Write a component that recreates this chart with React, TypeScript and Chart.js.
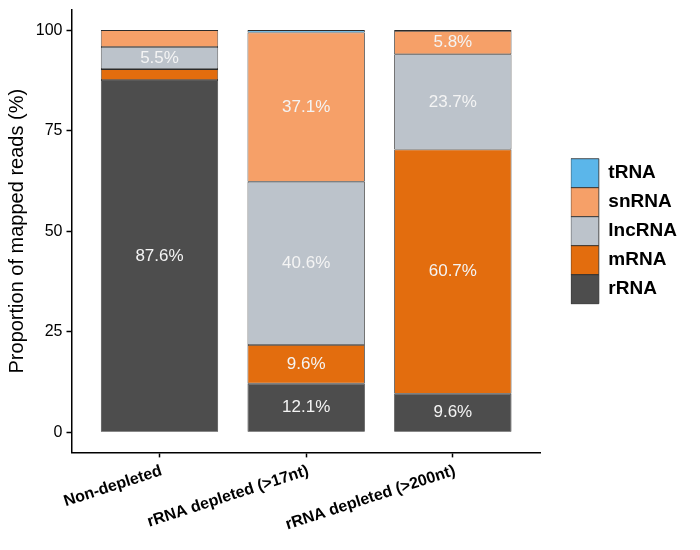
import React, { useEffect, useRef } from 'react';
import { Chart, registerables } from 'chart.js';

Chart.register(...registerables);

const categories = ['Non-depleted', 'rRNA depleted (>17nt)', 'rRNA depleted (>200nt)'];
const rRNA = [87.6, 12.1, 9.6];
const mRNA = [2.7, 9.6, 60.7];
const lncRNA = [5.5, 40.6, 23.7];
const snRNA = [4.2, 37.1, 5.8];
const tRNA = [0.0, 0.6, 0.2];
const yTicks = [0, 25, 50, 75, 100];

const FONT = "'Liberation Sans', Arial, Helvetica, sans-serif";

// white percentage labels inside segments of 5% or more
const valueLabels = {
  id: 'valueLabels',
  afterDatasetsDraw(chart: any) {
    const ctx = chart.ctx;
    ctx.save();
    ctx.font = `17px ${FONT}`;
    ctx.fillStyle = '#f4f4f4';
    ctx.textAlign = 'center';
    ctx.textBaseline = 'middle';
    chart.data.datasets.forEach((ds: any, i: number) => {
      const meta = chart.getDatasetMeta(i);
      meta.data.forEach((bar: any, j: number) => {
        const v = ds.data[j].y;
        if (v < 5) return;
        const { x, y, base } = bar.getProps(['x', 'y', 'base'], true);
        ctx.fillText(v.toFixed(1) + '%', x, (y + base) / 2);
      });
    });
    ctx.restore();
  },
};

const App: React.FC = () => {
  const canvasRef = useRef<HTMLCanvasElement | null>(null);
  const chartRef = useRef<Chart | null>(null);

  useEffect(() => {
    if (!canvasRef.current) return;
    if (chartRef.current) chartRef.current.destroy();

    const series = [
      { label: 'rRNA', values: rRNA, color: '#4d4d4d' },
      { label: 'mRNA', values: mRNA, color: '#e36d0e' },
      { label: 'lncRNA', values: lncRNA, color: '#bcc3cb' },
      { label: 'snRNA', values: snRNA, color: '#f6a068' },
      { label: 'tRNA', values: tRNA, color: '#5bb6ea' },
    ];

    chartRef.current = new Chart(canvasRef.current, {
      type: 'bar',
      data: {
        datasets: series.map((s) => ({
          label: s.label,
          data: s.values.map((v, i) => ({ x: i, y: v })),
          backgroundColor: s.color,
          borderColor: '#2b2b2b',
          borderWidth: 0.8,
          borderSkipped: false,
          categoryPercentage: 1,
          barPercentage: 0.8,
        })),
      },
      options: {
        animation: false,
        responsive: true,
        maintainAspectRatio: false,
        layout: { padding: { top: 10, left: 0, right: 15, bottom: 0 } },
        plugins: {
          tooltip: { enabled: false },
          legend: {
            position: 'right',
            fullSize: false,
            reverse: true,
            labels: {
              boxWidth: 28,
              boxHeight: 29,
              padding: 0,
              color: '#000',
              font: { family: FONT, size: 19, weight: 'bold' },
            },
          },
        },
        scales: {
          x: {
            type: 'linear',
            min: -0.6,
            max: 2.6,
            stacked: true,
            offset: false,
            afterBuildTicks: (s: any) => {
              s.ticks = categories.map((_, i) => ({ value: i }));
            },
            afterFit: (s: any) => {
              s.height = 97.6;
              s.paddingLeft = 0;
              s.paddingRight = 0;
            },
            ticks: {
              autoSkip: false,
              minRotation: 18,
              maxRotation: 18,
              padding: 4,
              labelOffset: 2,
              color: '#000',
              font: { family: FONT, size: 16, weight: 'bold' },
              callback: (v: any) => categories[v] ?? '',
            },
            grid: {
              display: true,
              offset: false,
              drawOnChartArea: false,
              drawTicks: true,
              tickLength: 5,
              tickColor: '#000',
              tickWidth: 1.5,
            },
            border: { display: true, color: '#000', width: 1.5 },
          },
          y: {
            type: 'linear',
            min: -5,
            max: 105,
            stacked: true,
            afterBuildTicks: (s: any) => {
              s.ticks = yTicks.map((v) => ({ value: v }));
            },
            afterFit: (s: any) => {
              s.width = 71.5;
              s.paddingTop = 0;
              s.paddingBottom = 0;
            },
            ticks: {
              padding: 4,
              color: '#000',
              font: { family: FONT, size: 16 },
            },
            grid: { drawOnChartArea: false, drawTicks: true, tickLength: 5, tickColor: '#000', tickWidth: 1.5 },
            border: { display: true, color: '#000', width: 1.5 },
            title: {
              display: true,
              text: 'Proportion of mapped reads (%)',
              color: '#000',
              font: { family: FONT, size: 20 },
              padding: { top: 5, bottom: 0 },
            },
          },
          // empty axis that keeps a gap between the plot and the legend
          gap: {
            type: 'linear',
            position: 'right',
            display: true,
            grid: { display: false },
            border: { display: false },
            ticks: { display: false },
            afterFit: (s: any) => {
              s.width = 30;
            },
          },
        },
      },
      plugins: [valueLabels],
    } as any);

    return () => {
      if (chartRef.current) {
        chartRef.current.destroy();
        chartRef.current = null;
      }
    };
  }, []);

  return (
    <div style={{ position: 'absolute', left: 0, top: 0, width: 700, height: 550, background: '#fff' }}>
      <canvas ref={canvasRef}></canvas>
    </div>
  );
};

export default App;
